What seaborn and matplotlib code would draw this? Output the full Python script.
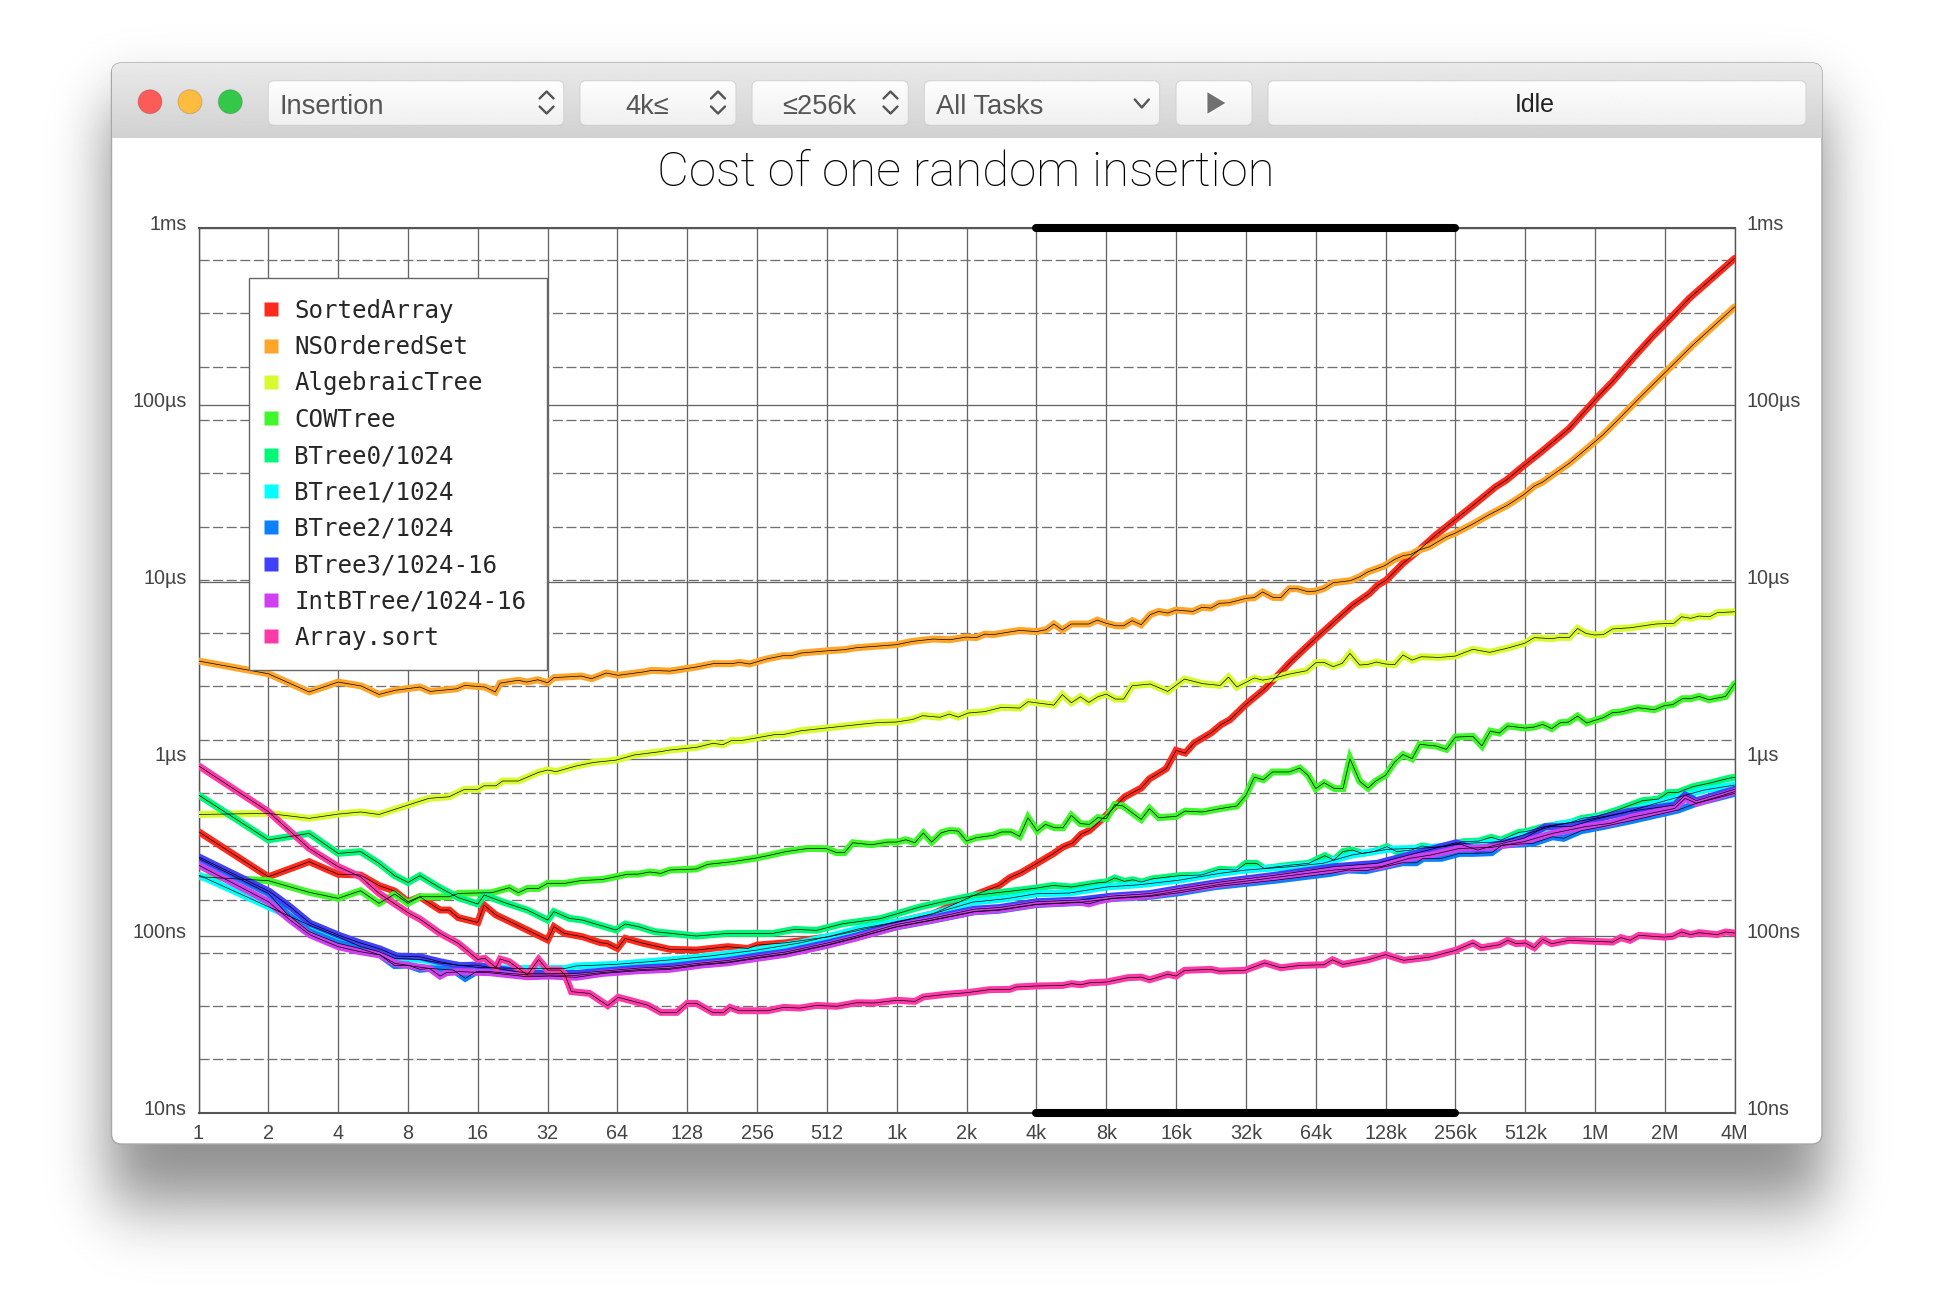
import math

import matplotlib
matplotlib.use('Agg')
import matplotlib.pyplot as plt
import numpy as np
import pandas as pd
import seaborn as sns
from matplotlib.lines import Line2D
from matplotlib.patches import Circle, FancyBboxPatch, Polygon
from matplotlib.transforms import ScaledTranslation

# data: x = log2(collection size), y = log10(nanoseconds)
sorted_array_oct = [0, 1, 1.585, 2, 2.32, 2.585, 2.81, 3, 3.17, 3.46, 3.59, 3.72, 4, 4.09, 4.26, 4.51, 4.74, 5, 5.09, 5.24, 5.5, 5.76, 5.85, 6, 6.11, 6.37, 6.75, 7.13, 7.58, 7.87, 8, 8.41, 9.03, 10, 10.52, 11.14, 11.47, 11.62, 11.78, 12, 12.24, 12.38, 12.52, 12.64, 12.76, 13, 13.26, 13.5, 13.62, 13.74, 13.86, 14, 14.13, 14.26, 14.5, 14.65, 14.77, 15, 15.27, 15.48, 15.62, 15.86, 16, 16.29, 16.53, 16.77, 16.89, 17.01, 17.25, 17.48, 17.72, 17.96, 18.2, 18.58, 18.73, 18.99, 19.23, 19.49, 19.63, 19.87, 20.01, 20.25, 20.54, 20.82, 21.01, 21.35, 22]
sorted_array_log = [2.588, 2.333, 2.418, 2.347, 2.343, 2.283, 2.252, 2.192, 2.22, 2.145, 2.145, 2.102, 2.075, 2.173, 2.117, 2.07, 2.026, 1.976, 2.051, 2.013, 1.994, 1.96, 1.957, 1.928, 1.985, 1.957, 1.923, 1.919, 1.938, 1.928, 1.947, 1.96, 1.994, 2.077, 2.124, 2.234, 2.284, 2.328, 2.356, 2.407, 2.463, 2.501, 2.524, 2.573, 2.595, 2.68, 2.783, 2.834, 2.887, 2.915, 2.944, 3.047, 3.032, 3.089, 3.145, 3.194, 3.22, 3.307, 3.395, 3.48, 3.539, 3.629, 3.68, 3.783, 3.868, 3.934, 3.981, 4.009, 4.104, 4.179, 4.264, 4.339, 4.414, 4.537, 4.574, 4.659, 4.734, 4.819, 4.866, 4.97, 5.032, 5.13, 5.262, 5.384, 5.46, 5.601, 5.827]

ordered_set_oct = [0, 1, 1.585, 2, 2.33, 2.585, 2.81, 3.17, 3.32, 3.7, 3.81, 4.1, 4.25, 4.32, 4.58, 4.7, 4.86, 5, 5.09, 5.48, 5.63, 5.84, 6.01, 6.37, 6.49, 6.75, 7.13, 7.37, 7.63, 7.75, 7.89, 8.13, 8.37, 8.49, 8.63, 9.02, 9.25, 9.42, 9.99, 10.23, 10.52, 10.76, 10.995, 11.14, 11.26, 11.38, 11.76, 12, 12.14, 12.25, 12.37, 12.5, 12.75, 12.87, 13, 13.14, 13.25, 13.37, 13.5, 13.63, 13.75, 13.88, 14, 14.24, 14.37, 14.5, 14.62, 14.76, 15, 15.12, 15.24, 15.39, 15.5, 15.62, 15.74, 15.89, 16, 16.12, 16.25, 16.5, 16.63, 16.75, 16.98, 17.13, 17.25, 17.36, 17.48, 17.63, 17.87, 17.99, 18.25, 18.49, 18.75, 18.99, 19.13, 19.25, 19.39, 19.63, 19.87, 20.11, 20.35, 20.63, 20.99, 21.4, 22]
ordered_set_log = [3.552, 3.48, 3.377, 3.433, 3.411, 3.363, 3.386, 3.405, 3.38, 3.395, 3.414, 3.405, 3.377, 3.427, 3.443, 3.433, 3.446, 3.429, 3.458, 3.467, 3.452, 3.484, 3.471, 3.49, 3.499, 3.495, 3.518, 3.537, 3.537, 3.544, 3.535, 3.563, 3.582, 3.582, 3.597, 3.61, 3.616, 3.627, 3.644, 3.663, 3.676, 3.672, 3.687, 3.684, 3.704, 3.701, 3.725, 3.718, 3.729, 3.761, 3.727, 3.761, 3.761, 3.783, 3.765, 3.751, 3.751, 3.78, 3.757, 3.814, 3.832, 3.823, 3.84, 3.832, 3.855, 3.851, 3.878, 3.881, 3.906, 3.91, 3.942, 3.911, 3.91, 3.96, 3.96, 3.943, 3.947, 3.962, 3.994, 4.006, 4.028, 4.056, 4.089, 4.126, 4.147, 4.154, 4.179, 4.198, 4.254, 4.273, 4.326, 4.38, 4.433, 4.495, 4.54, 4.563, 4.603, 4.669, 4.748, 4.829, 4.923, 5.036, 5.177, 5.337, 5.553]

algebraic_oct = [0, 1, 1.585, 2, 2.32, 2.585, 3, 3.3, 3.59, 3.81, 4, 4.09, 4.26, 4.355, 4.58, 4.87, 5, 5.12, 5.41, 5.66, 5.98, 6.24, 6.62, 6.75, 7.13, 7.37, 7.51, 7.63, 7.77, 8.25, 8.37, 8.63, 9.52, 9.76, 9.99, 10.23, 10.37, 10.62, 10.75, 10.88, 11.02, 11.26, 11.5, 11.76, 11.88, 12.25, 12.37, 12.5, 12.63, 12.75, 12.88, 13, 13.13, 13.25, 13.37, 13.63, 13.88, 14.12, 14.38, 14.63, 14.75, 14.87, 15.12, 15.24, 15.39, 15.62, 15.87, 16, 16.12, 16.25, 16.38, 16.49, 16.63, 16.75, 16.87, 17, 17.13, 17.25, 17.38, 17.51, 17.77, 18, 18.25, 18.49, 18.73, 18.99, 19.13, 19.39, 19.49, 19.63, 19.75, 19.87, 19.99, 20.12, 20.25, 20.51, 20.87, 21.13, 21.24, 21.37, 21.49, 21.64, 21.75, 22]
algebraic_log = [2.685, 2.691, 2.663, 2.687, 2.699, 2.685, 2.738, 2.776, 2.785, 2.827, 2.827, 2.847, 2.847, 2.874, 2.874, 2.923, 2.936, 2.927, 2.959, 2.979, 2.992, 3.021, 3.04, 3.049, 3.064, 3.087, 3.079, 3.102, 3.102, 3.136, 3.136, 3.158, 3.196, 3.205, 3.207, 3.222, 3.243, 3.234, 3.252, 3.235, 3.258, 3.266, 3.29, 3.286, 3.322, 3.303, 3.362, 3.316, 3.35, 3.318, 3.35, 3.365, 3.337, 3.337, 3.412, 3.422, 3.38, 3.45, 3.424, 3.414, 3.461, 3.405, 3.456, 3.444, 3.454, 3.478, 3.497, 3.542, 3.544, 3.52, 3.539, 3.595, 3.529, 3.533, 3.546, 3.535, 3.531, 3.586, 3.557, 3.576, 3.572, 3.58, 3.618, 3.601, 3.623, 3.652, 3.684, 3.678, 3.686, 3.684, 3.736, 3.708, 3.699, 3.701, 3.733, 3.74, 3.761, 3.765, 3.802, 3.793, 3.806, 3.802, 3.825, 3.83]

cow_tree_oct = [0, 1, 1.585, 2, 2.32, 2.585, 2.81, 3, 3.17, 3.59, 3.72, 4.2, 4.45, 4.58, 4.71, 4.87, 5, 5.25, 5.47, 5.79, 6.14, 6.3, 6.46, 6.62, 6.75, 7.13, 7.29, 7.64, 7.96, 8.15, 8.41, 8.73, 8.99, 9.14, 9.25, 9.37, 9.64, 9.87, 10, 10.13, 10.26, 10.38, 10.5, 10.64, 10.76, 10.88, 11, 11.14, 11.38, 11.5, 11.64, 11.76, 11.88, 12.01, 12.13, 12.26, 12.38, 12.5, 12.63, 12.76, 12.88, 13, 13.12, 13.24, 13.5, 13.62, 13.75, 14, 14.13, 14.38, 14.63, 14.87, 15, 15.12, 15.25, 15.38, 15.62, 15.77, 15.89, 16, 16.12, 16.27, 16.39, 16.49, 16.63, 16.75, 16.86, 17, 17.13, 17.25, 17.38, 17.49, 17.72, 17.87, 18, 18.25, 18.38, 18.5, 18.63, 18.75, 19, 19.13, 19.25, 19.38, 19.5, 19.62, 19.75, 19.88, 20.12, 20.25, 20.37, 20.61, 20.85, 21, 21.11, 21.25, 21.37, 21.49, 21.63, 21.87, 22]
cow_tree_log = [2.333, 2.311, 2.245, 2.211, 2.254, 2.183, 2.235, 2.183, 2.22, 2.22, 2.239, 2.243, 2.271, 2.243, 2.267, 2.267, 2.296, 2.296, 2.311, 2.318, 2.347, 2.348, 2.36, 2.352, 2.371, 2.377, 2.403, 2.418, 2.437, 2.452, 2.475, 2.493, 2.492, 2.469, 2.469, 2.525, 2.514, 2.529, 2.529, 2.542, 2.525, 2.58, 2.529, 2.582, 2.595, 2.591, 2.535, 2.554, 2.567, 2.586, 2.586, 2.561, 2.667, 2.591, 2.629, 2.61, 2.61, 2.68, 2.633, 2.629, 2.667, 2.661, 2.74, 2.733, 2.657, 2.718, 2.667, 2.674, 2.704, 2.699, 2.718, 2.733, 2.793, 2.896, 2.881, 2.925, 2.925, 2.947, 2.906, 2.831, 2.864, 2.831, 2.831, 3.0, 2.872, 2.834, 2.874, 2.906, 2.981, 3.024, 3.0, 3.081, 3.072, 3.053, 3.122, 3.126, 3.072, 3.156, 3.145, 3.185, 3.173, 3.179, 3.194, 3.17, 3.203, 3.207, 3.241, 3.202, 3.232, 3.26, 3.264, 3.288, 3.277, 3.301, 3.305, 3.339, 3.339, 3.352, 3.333, 3.352, 3.424]

btree0_oct = [0, 1, 1.585, 2, 2.32, 2.585, 2.81, 3, 3.17, 3.43, 3.72, 4, 4.09, 4.39, 4.71, 5, 5.09, 5.31, 5.5, 5.98, 6.11, 6.3, 6.53, 7.13, 7.58, 8.22, 8.54, 8.85, 9.23, 9.76, 10.33, 10.71, 11.11, 11.64, 12, 12.24, 12.5, 12.86, 13, 13.12, 13.26, 13.38, 13.5, 13.67, 14.05, 14.36, 14.62, 14.87, 15, 15.15, 15.26, 15.64, 15.9, 16.13, 16.26, 16.39, 16.52, 16.67, 16.83, 17.02, 17.16, 17.37, 17.52, 17.65, 17.85, 18.11, 18.34, 18.51, 18.65, 18.91, 19.01, 19.27, 19.65, 19.81, 20.04, 20.32, 20.68, 20.91, 21.04, 21.19, 21.4, 21.66, 21.91, 22]
btree0_log = [2.795, 2.541, 2.578, 2.465, 2.475, 2.409, 2.339, 2.301, 2.339, 2.277, 2.215, 2.179, 2.23, 2.186, 2.145, 2.088, 2.136, 2.098, 2.088, 2.032, 2.066, 2.051, 2.023, 1.998, 2.013, 2.013, 2.036, 2.03, 2.068, 2.096, 2.162, 2.196, 2.228, 2.252, 2.269, 2.284, 2.275, 2.298, 2.303, 2.326, 2.307, 2.316, 2.303, 2.322, 2.339, 2.343, 2.375, 2.371, 2.409, 2.409, 2.38, 2.399, 2.409, 2.452, 2.427, 2.475, 2.484, 2.465, 2.475, 2.503, 2.475, 2.484, 2.507, 2.499, 2.503, 2.531, 2.535, 2.556, 2.54, 2.584, 2.588, 2.616, 2.64, 2.663, 2.676, 2.71, 2.763, 2.772, 2.808, 2.81, 2.842, 2.864, 2.889, 2.895]

btree1_oct = [0, 1, 1.585, 2, 2.32, 2.585, 2.81, 3.17, 3.49, 4, 4.58, 5.25, 5.41, 5.98, 6.75, 7.32, 8, 8.61, 9.09, 9.47, 10, 10.52, 11.09, 11.57, 12, 12.47, 13, 13.47, 14.05, 14.62, 15, 15.64, 16.1, 16.52, 17.03, 17.65, 18.16, 18.67, 19.19, 19.45, 19.86, 20.42, 20.9, 21.56, 22]
btree1_log = [2.343, 2.164, 2.06, 1.994, 1.938, 1.91, 1.872, 1.866, 1.844, 1.821, 1.815, 1.815, 1.829, 1.838, 1.863, 1.885, 1.919, 1.959, 2.002, 2.04, 2.077, 2.124, 2.19, 2.209, 2.237, 2.241, 2.275, 2.288, 2.314, 2.352, 2.371, 2.39, 2.409, 2.456, 2.488, 2.497, 2.522, 2.531, 2.597, 2.625, 2.653, 2.695, 2.751, 2.823, 2.851]

btree2_oct = [0, 1, 1.26, 1.585, 2, 2.31, 2.6, 2.81, 3, 3.17, 3.31, 3.65, 3.82, 3.98, 4.17, 4.71, 5.03, 5.41, 5.79, 6.3, 6.75, 7.2, 7.58, 8, 8.41, 9, 9.4, 10, 10.52, 11.11, 11.47, 12, 12.62, 13.09, 13.62, 14.05, 14.56, 15.44, 16.21, 16.47, 16.72, 17.24, 17.44, 17.54, 17.8, 18.06, 18.26, 18.52, 18.67, 19.11, 19.39, 19.55, 19.8, 20.11, 20.52, 21.19, 21.45, 22]
btree2_log = [2.437, 2.239, 2.126, 2.023, 1.957, 1.928, 1.891, 1.831, 1.834, 1.81, 1.815, 1.806, 1.759, 1.797, 1.797, 1.778, 1.778, 1.776, 1.792, 1.808, 1.816, 1.838, 1.851, 1.876, 1.898, 1.948, 1.988, 2.05, 2.088, 2.135, 2.144, 2.176, 2.188, 2.21, 2.222, 2.243, 2.277, 2.314, 2.352, 2.371, 2.367, 2.412, 2.412, 2.437, 2.437, 2.465, 2.465, 2.469, 2.512, 2.522, 2.559, 2.55, 2.593, 2.616, 2.65, 2.71, 2.748, 2.804]

btree3_oct = [0, 1.02, 1.31, 1.6, 2, 2.31, 2.6, 2.84, 3.17, 3.46, 3.74, 3.98, 4.17, 4.71, 5.03, 5.41, 5.79, 6.3, 6.75, 7.2, 7.58, 8, 8.41, 9, 9.4, 10, 10.52, 11.11, 11.47, 12, 12.62, 13.09, 13.62, 14.05, 14.67, 15.44, 16.26, 16.88, 17.24, 18.01, 18.32, 18.57, 18.98, 19.29, 19.65, 19.96, 20.47, 21.14, 21.29, 21.45, 22]
btree3_log = [2.446, 2.249, 2.164, 2.07, 2.004, 1.96, 1.925, 1.885, 1.881, 1.853, 1.831, 1.834, 1.821, 1.788, 1.786, 1.787, 1.8, 1.817, 1.826, 1.846, 1.86, 1.886, 1.908, 1.958, 1.996, 2.064, 2.1, 2.15, 2.159, 2.192, 2.202, 2.224, 2.238, 2.267, 2.305, 2.343, 2.39, 2.409, 2.446, 2.525, 2.484, 2.512, 2.55, 2.616, 2.616, 2.653, 2.701, 2.738, 2.795, 2.763, 2.827]

int_btree_oct = [0, 1, 1.31, 1.6, 2, 2.31, 2.6, 2.81, 3.12, 3.31, 3.46, 3.55, 3.74, 3.98, 4.17, 4.71, 5.03, 5.41, 5.79, 6.3, 6.75, 7.2, 7.58, 8, 8.41, 9, 9.4, 10, 10.52, 11.11, 11.47, 12, 12.62, 12.75, 12.9, 13.09, 13.62, 14.05, 14.67, 15.44, 16.26, 16.93, 17.34, 17.65, 18.06, 18.52, 18.98, 19.39, 19.86, 20.22, 20.52, 21.14, 21.29, 21.45, 22]
int_btree_log = [2.399, 2.192, 2.089, 2.004, 1.938, 1.91, 1.891, 1.844, 1.825, 1.815, 1.772, 1.791, 1.797, 1.793, 1.791, 1.768, 1.772, 1.765, 1.787, 1.802, 1.81, 1.834, 1.847, 1.872, 1.895, 1.945, 1.985, 2.052, 2.09, 2.137, 2.147, 2.178, 2.19, 2.18, 2.197, 2.212, 2.226, 2.254, 2.292, 2.33, 2.371, 2.39, 2.437, 2.456, 2.493, 2.499, 2.531, 2.578, 2.616, 2.635, 2.669, 2.719, 2.776, 2.748, 2.814]

array_sort_oct = [0, 1, 1.585, 2, 2.32, 2.585, 3, 3.17, 3.46, 3.72, 3.81, 4, 4.1, 4.26, 4.32, 4.45, 4.71, 4.87, 5, 5.18, 5.25, 5.34, 5.6, 5.86, 6.01, 6.43, 6.62, 6.85, 7, 7.13, 7.36, 7.52, 7.61, 7.74, 8.15, 8.38, 8.61, 8.85, 9.14, 9.42, 9.68, 10, 10.26, 10.38, 10.71, 11, 11.33, 11.62, 11.71, 12, 12.38, 12.5, 12.64, 12.76, 13, 13.31, 13.5, 13.62, 13.88, 14, 14.12, 14.5, 14.62, 14.98, 15.27, 15.5, 15.77, 16.12, 16.24, 16.39, 16.75, 17, 17.26, 17.63, 18, 18.25, 18.37, 18.63, 18.75, 18.87, 19, 19.13, 19.25, 19.38, 19.63, 19.99, 20.25, 20.37, 20.5, 20.63, 20.99, 21.11, 21.24, 21.37, 21.49, 21.75, 21.87, 22]
array_sort_log = [2.96, 2.701, 2.493, 2.39, 2.333, 2.239, 2.13, 2.094, 2.013, 1.957, 1.928, 1.866, 1.872, 1.821, 1.868, 1.853, 1.778, 1.866, 1.806, 1.806, 1.778, 1.684, 1.674, 1.605, 1.652, 1.608, 1.567, 1.567, 1.618, 1.618, 1.567, 1.567, 1.595, 1.576, 1.576, 1.595, 1.591, 1.606, 1.601, 1.621, 1.62, 1.635, 1.629, 1.654, 1.669, 1.678, 1.695, 1.697, 1.71, 1.716, 1.719, 1.729, 1.723, 1.734, 1.738, 1.763, 1.766, 1.751, 1.782, 1.772, 1.804, 1.81, 1.8, 1.804, 1.846, 1.819, 1.832, 1.836, 1.864, 1.838, 1.864, 1.893, 1.861, 1.879, 1.917, 1.959, 1.932, 1.949, 1.974, 1.955, 1.959, 1.932, 1.979, 1.955, 1.974, 1.968, 1.964, 1.989, 1.974, 2.002, 1.992, 1.996, 2.021, 2.006, 2.017, 2.006, 2.021, 2.015]

series_names = ['SortedArray', 'NSOrderedSet', 'AlgebraicTree', 'COWTree', 'BTree0/1024', 'BTree1/1024',
                'BTree2/1024', 'BTree3/1024-16', 'IntBTree/1024-16', 'Array.sort']
series_colors = ['#ff2a1a', '#ffa52a', '#d8fb30', '#3ff72a', '#00f878', '#00ffff',
                 '#0a80ff', '#4040ff', '#d040f0', '#ff3aa8']
series_points = [(sorted_array_oct, sorted_array_log), (ordered_set_oct, ordered_set_log),
                 (algebraic_oct, algebraic_log), (cow_tree_oct, cow_tree_log),
                 (btree0_oct, btree0_log), (btree1_oct, btree1_log), (btree2_oct, btree2_log),
                 (btree3_oct, btree3_log), (int_btree_oct, int_btree_log), (array_sort_oct, array_sort_log)]

x_tick_labels = ['1', '2', '4', '8', '16', '32', '64', '128', '256', '512', '1k', '2k', '4k', '8k', '16k',
                 '32k', '64k', '128k', '256k', '512k', '1M', '2M', '4M']
y_tick_ns = [10, 100, 1000, 10000, 100000, 1000000]
y_tick_labels = ['10ns', '100ns', '1µs', '10µs', '100µs', '1ms']
selected_range = [4096, 262144]

WIDTH, HEIGHT = 1934, 1304
UI_FONT = 'Liberation Sans'
GRID = '#666666'

sns.set_theme(style='white')
plt.rcParams['font.family'] = [UI_FONT, 'DejaVu Sans']

fig = plt.figure(figsize=(WIDTH / 100, HEIGHT / 100), dpi=100, facecolor='white')

# window chrome, drawn in pixel coordinates behind the chart
bg = fig.add_axes([0, 0, 1, 1])
bg.set_xlim(0, WIDTH)
bg.set_ylim(HEIGHT, 0)
bg.axis('off')


def soft_edge(coords, start, stop, sigma):
    erf = np.vectorize(math.erf)
    return 0.5 * (erf((coords - start) / (sigma * 2 ** 0.5)) - erf((coords - stop) / (sigma * 2 ** 0.5)))


xs = np.arange(WIDTH) + 0.5
ys = np.arange(HEIGHT) + 0.5
shadow = 1 - 0.44 * np.outer(soft_edge(ys, 103, 1205, 33), soft_edge(xs, 108, 1826, 28))
bg.imshow(shadow, cmap='gray', vmin=0, vmax=1, extent=(0, WIDTH, HEIGHT, 0), aspect='auto', zorder=0)
bg.set_xlim(0, WIDTH)
bg.set_ylim(HEIGHT, 0)


def rounded(x0, y0, x1, y1, radius, **kwargs):
    patch = FancyBboxPatch((x0 + radius, y0 + radius), x1 - x0 - 2 * radius, y1 - y0 - 2 * radius,
                           boxstyle=f'round,pad={radius},rounding_size={radius}', **kwargs)
    bg.add_patch(patch)
    return patch


def gradient(patch, extent, top, bottom, zorder):
    ramp = np.linspace(top, bottom, 64).reshape(-1, 1)
    img = bg.imshow(ramp, cmap='gray', vmin=0, vmax=1, extent=extent, aspect='auto', zorder=zorder)
    img.set_clip_path(patch)
    bg.set_xlim(0, WIDTH)
    bg.set_ylim(HEIGHT, 0)


window = rounded(111.5, 63, 1822, 1144, 10, facecolor='white', edgecolor='#a8a8a8', linewidth=1, zorder=1)
toolbar_clip = rounded(111.5, 63, 1822, 150, 10, facecolor='none', edgecolor='none', zorder=1)
toolbar = bg.imshow(np.linspace(0.915, 0.82, 64).reshape(-1, 1), cmap='gray', vmin=0, vmax=1,
                    extent=(111.5, 1822, 137.7, 63), aspect='auto', zorder=2)
toolbar.set_clip_path(toolbar_clip)
bg.set_xlim(0, WIDTH)
bg.set_ylim(HEIGHT, 0)

for cx, color in zip([150, 190, 230.3], ['#fc5b57', '#fdbc40', '#34c84a']):
    bg.add_patch(Circle((cx, 101.7), 12, facecolor=color, edgecolor='#00000022', linewidth=0.8, zorder=3))

for x0, x1 in [(268.2, 563.8), (579.9, 736), (752, 908.3), (924.3, 1159.6), (1176, 1252), (1268, 1806)]:
    rounded(x0, 81.5, x1, 126, 6, facecolor='#b0b0b0', edgecolor='none', zorder=3)
    button = rounded(x0, 80.7, x1, 125.3, 6, facecolor='#f8f8f8', edgecolor='none', zorder=3.1)
    gradient(button, (x0, x1, 125.3, 80.7), 0.995, 0.94, 3.2)
    rounded(x0, 80.7, x1, 125.3, 6, facecolor='none', edgecolor='#d4d4d4', linewidth=0.8, zorder=3.3)

for cx in [546.6, 718, 890.5]:
    bg.plot([cx - 7, cx, cx + 7], [98.5, 91.5, 98.5], color='#555555', lw=1.7, zorder=4)
    bg.plot([cx - 7, cx, cx + 7], [106.5, 113.5, 106.5], color='#555555', lw=1.7, zorder=4)
bg.plot([1134.8, 1141.8, 1148.8], [99.5, 107.5, 99.5], color='#555555', lw=1.7, zorder=4)
bg.add_patch(Polygon([(1206.7, 91), (1226.7, 103), (1206.7, 115)], facecolor='#707070', zorder=4))

toolbar_text = dict(fontsize=19.6, color='#555555', va='center', family=UI_FONT, zorder=5)
bg.text(279.8, 107.5, 'Insertion', ha='left', **toolbar_text)
bg.text(647.5, 107.5, '4k≤', ha='center', **toolbar_text)
bg.text(819.5, 107.5, '≤256k', ha='center', **toolbar_text)
bg.text(936, 107.5, 'All Tasks', ha='left', **toolbar_text)
bg.text(1535, 105, 'Idle', ha='center', va='center', fontsize=18, color='#222222', family=UI_FONT, zorder=5)
bg.text(966, 173, 'Cost of one random insertion', ha='center', va='center', fontsize=35.5, color='black',
        family='Roboto', fontweight='light', zorder=5)

# the chart itself
ax = fig.add_axes([198.5 / WIDTH, 1 - 1112.7 / HEIGHT, 1536.2 / WIDTH, 885 / HEIGHT], facecolor='none')

frames = [pd.DataFrame({'size': 2.0 ** np.array(octs), 'ns': 10.0 ** np.array(logs), 'series': name})
          for name, (octs, logs) in zip(series_names, series_points)]
df = pd.concat(frames, ignore_index=True)

sns.lineplot(data=df, x='size', y='ns', hue='series', hue_order=series_names, palette=series_colors,
             estimator=None, sort=False, linewidth=5.0, legend=False, ax=ax, zorder=3, solid_joinstyle='miter')
sns.lineplot(data=df, x='size', y='ns', units='series', color='black', estimator=None, sort=False,
             linewidth=0.5, legend=False, ax=ax, zorder=4, solid_joinstyle='miter')

ax.set_xscale('log', base=2)
ax.set_yscale('log')
ax.set_xlim(1, 2 ** 22)
ax.set_ylim(10, 1000000)
ax.set_xlabel('')
ax.set_ylabel('')

x_ticks = [2 ** k for k in range(23)]
ax.set_xticks(x_ticks)
ax.set_xticklabels(x_tick_labels)
ax.minorticks_off()
ax.set_yticks(y_tick_ns)
ax.set_yticklabels(y_tick_labels)
ax.tick_params(axis='both', which='both', length=0, labelsize=14.2, labelcolor='#444444')
ax.tick_params(axis='y', labelright=True, labelleft=True, pad=8.5)
ax.tick_params(axis='x', pad=8)

ax.grid(True, which='major', color=GRID, linewidth=0.95, zorder=1)
ax.set_axisbelow(True)
for k in range(1, 17):
    ax.axhline(10 * 2 ** k, color='#707070', linewidth=0.95, dashes=(7.6, 2.7), zorder=1)

for label in ax.get_yticklabels():
    label.set_transform(label.get_transform() + ScaledTranslation(0, 3.4 / 72, fig.dpi_scale_trans))

for spine in ax.spines.values():
    spine.set_visible(True)
    spine.set_color('#555555')
    spine.set_linewidth(1.0)
ax.spines['top'].set_linewidth(1.5)
ax.spines['bottom'].set_linewidth(1.5)

for y_edge in [10, 1000000]:
    ax.plot(selected_range, [y_edge, y_edge], color='black', linewidth=5.8, solid_capstyle='round',
            clip_on=False, zorder=6)

handles = [Line2D([], [], linestyle='none', marker='s', markersize=10, markerfacecolor=c, markeredgecolor='none')
           for c in series_colors]
legend = ax.legend(handles, series_names, loc='upper left', bbox_to_anchor=(249 / WIDTH, 1 - 278.3 / HEIGHT),
                   bbox_transform=fig.transFigure, borderaxespad=0, fancybox=False, framealpha=1,
                   facecolor='white', edgecolor='#666666', prop={'family': 'DejaVu Sans Mono', 'size': 17.4},
                   labelspacing=0.51, handletextpad=0.93, handlelength=0.1, borderpad=0.85)
legend.get_frame().set_linewidth(1.0)
legend.set_zorder(10)

fig.savefig('out.png', dpi=100)
plt.close(fig)
